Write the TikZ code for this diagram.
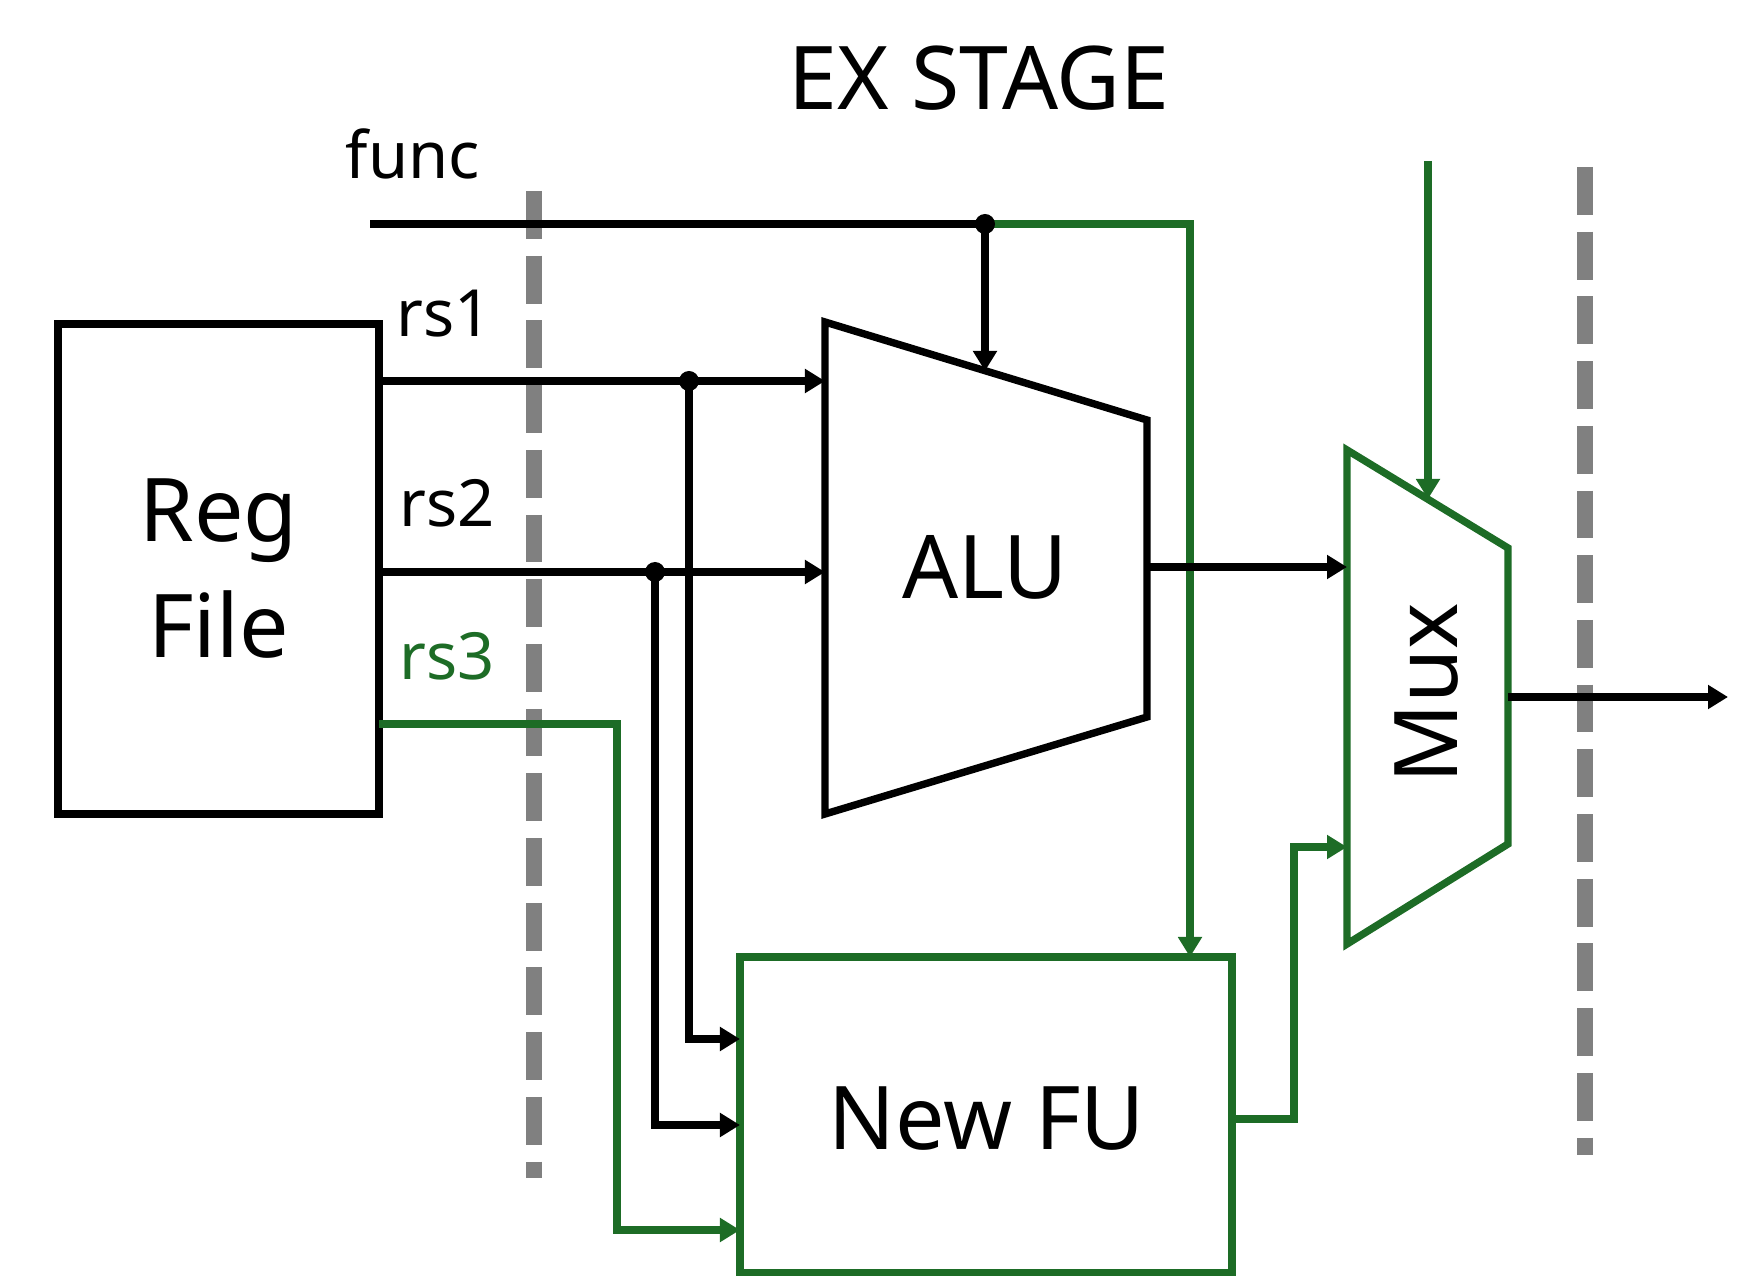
\documentclass[tikz,border=0pt]{standalone}
\usepackage{fontspec}
\setmainfont{Noto Sans}
\usepackage{xcolor}
\usetikzlibrary{arrows.meta, calc}
\definecolor{fugreen}{RGB}{29,108,38}
\definecolor{stagegray}{RGB}{128,128,128}

\begin{document}
\begin{tikzpicture}[
  x=0.01cm, y=-0.01cm,
  plain/.style={line width=2.1pt},
  wire/.style={line width=2.1pt, -{Triangle[length=0.2cm, width=0.23cm]}},
  unit/.style={
    draw, line width=2.1pt, inner sep=0pt,
    align=center, font=\fontsize{25}{33}\selectfont
  },
  big/.style={font=\fontsize{25}{33}\selectfont},
  sig/.style={font=\fontsize{18.5}{22}\selectfont},
  stage/.style={stagegray, line width=4.5pt, dash pattern=on 13.6pt off 4.8pt},
  jdot/.style={circle, fill, inner sep=0pt, minimum size=0.2cm},
]
\useasboundingbox (0,0) rectangle (1742,1276);

%% ---- Stage boundaries ----
\draw[stage] (534,191) -- (534,1178);
\draw[stage] (1585,167) -- (1585,1155);

%% ---- Title and signal labels ----
\node[big] (title) at (979,78) {EX STAGE};
\node[sig] (funclbl) at (413,154) {func};
\node[sig] (rs1lbl) at (444,314) {rs1};
\node[sig] (rs2lbl) at (447,503) {rs2};
\node[sig, text=fugreen] (rs3lbl) at (447,656) {rs3};

%% ---- Units ----
\node[unit, minimum width=3.21cm, minimum height=4.9cm] (reg) at (218.5,569) {Reg\\File};
\node[unit, draw=fugreen, minimum width=4.92cm, minimum height=3.16cm] (newfu) at (986,1115) {};
\node[big] (fulbl) at (987,1119) {New FU};

\coordinate (alu1) at (825,322);
\coordinate (alu2) at (1147,420);
\coordinate (alu3) at (1147,717);
\coordinate (alu4) at (825,814);
\draw[plain] (alu1) -- (alu2) -- (alu3) -- (alu4) -- cycle;
\node[big] (alu) at (985,567) {ALU};

\coordinate (mux1) at (1347,450);
\coordinate (mux2) at (1508,548);
\coordinate (mux3) at (1508,844);
\coordinate (mux4) at (1347,944);
\draw[plain, fugreen] (mux1) -- (mux2) -- (mux3) -- (mux4) -- cycle;
\node[big, rotate=90] (mux) at (1427,693) {Mux};

%% ---- Ports and junctions ----
\coordinate (funcin) at (370,224);
\coordinate (fj) at (985,224);
\coordinate (aluf) at (985,371);
\coordinate (fuf) at (1190,957);
\coordinate (rs1o) at (379,381);
\coordinate (rs2o) at (379,572);
\coordinate (rs3o) at (379,724);
\coordinate (rs1j) at (689,381);
\coordinate (rs2j) at (655,572);
\coordinate (rs3k) at (617,724);
\coordinate (aluin1) at (825,381);
\coordinate (aluin2) at (825,572);
\coordinate (fuin1) at (740,1039);
\coordinate (fuin2) at (740,1125);
\coordinate (fuin3) at (740,1230);
\coordinate (aluout) at (1147,567);
\coordinate (muxin1) at (1347,567);
\coordinate (fuout) at (1232,1119);
\coordinate (fuk) at (1294,1119);
\coordinate (muxin2) at (1347,847);
\coordinate (muxsel) at (1428,161);
\coordinate (muxtop) at (1428,499);
\coordinate (muxout) at (1508,697);
\coordinate (outend) at (1728,697);

%% ---- func bus ----
\draw[plain] (funcin) -- (fj);
\draw[wire] (fj) -- (aluf);
\draw[wire, fugreen] (fj) -| (fuf);

%% ---- Operands ----
\draw[wire] (rs1o) -- (aluin1);
\draw[wire] (rs2o) -- (aluin2);
\draw[wire] (rs1j) |- (fuin1);
\draw[wire] (rs2j) |- (fuin2);
\draw[wire, fugreen] (rs3o) -- (rs3k) |- (fuin3);

%% ---- Results into the mux ----
\draw[wire] (aluout) -- (muxin1);
\draw[wire, fugreen] (fuout) -- (fuk) |- (muxin2);
\draw[wire, fugreen] (muxsel) -- (muxtop);
\draw[wire] (muxout) -- (outend);

%% ---- Junction dots ----
\node[jdot] (fjdot) at (fj) {};
\node[jdot] (rs1dot) at (rs1j) {};
\node[jdot] (rs2dot) at (rs2j) {};

\end{tikzpicture}
\end{document}
